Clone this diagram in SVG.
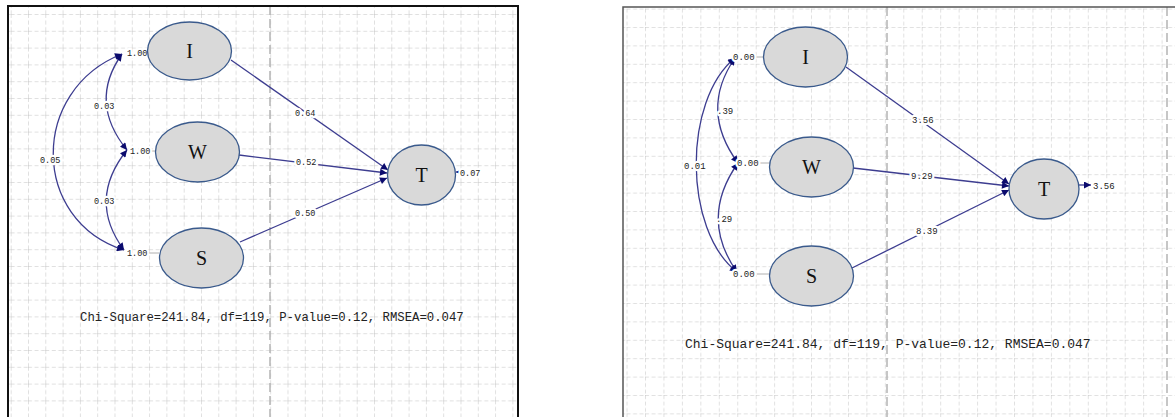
<svg xmlns="http://www.w3.org/2000/svg" width="1175" height="417" viewBox="0 0 1175 417">
<style>
.node ellipse{fill:#d9d9d9;stroke:#3a5a8c;stroke-width:1.3}
.node text{font-family:"Liberation Serif","Times New Roman",serif;font-size:20px;fill:#111;text-anchor:middle;dominant-baseline:central}
.edge{fill:none;stroke:#3d3d90;stroke-width:1.3}
.tick{stroke:#b0b0b0;stroke-width:1}
.lbl{font-family:"Liberation Mono","Courier New",monospace;font-size:8.5px;fill:#222;paint-order:stroke;stroke:#fff;stroke-width:4.5px;stroke-linejoin:round}
.lblR{font-size:9px}
.fit{font-family:"Liberation Mono","Courier New",monospace;fill:#222}
.pb{stroke:#b4b4b4;stroke-width:1.5;stroke-dasharray:9 4}
</style>
<defs>
<marker id="ah" viewBox="0 0 10 10" refX="10" refY="5" markerWidth="9" markerHeight="7" markerUnits="userSpaceOnUse" orient="auto-start-reverse">
<path d="M0,0 L10,5 L0,10 z" fill="#0b0b6e"/>
</marker>
<pattern id="gridL" patternUnits="userSpaceOnUse" x="28" y="14" width="17.3" height="16.8">
<path d="M0,0 V16.8 M0,0 H17.3" fill="none" stroke="#c2c2c2" stroke-width="1" stroke-dasharray="4 2.5"/>
</pattern>
<pattern id="gridR" patternUnits="userSpaceOnUse" x="645" y="27" width="18.45" height="18.4">
<path d="M0,0 V18.4 M0,0 H18.45" fill="none" stroke="#c2c2c2" stroke-width="1" stroke-dasharray="4 2.5"/>
</pattern>
</defs>
<rect width="1175" height="417" fill="#fff"/>

<g id="panel-left">
<rect x="8" y="6" width="510" height="420" fill="url(#gridL)"/>
<line class="pb" x1="270" y1="6" x2="270" y2="417"/>
<rect x="8" y="6" width="510" height="420" fill="none" stroke="#111" stroke-width="2"/>
</g>
<g id="panel-right">
<rect x="623" y="7" width="560" height="420" fill="url(#gridR)"/>
<line class="pb" x1="887" y1="7" x2="887" y2="417"/>
<line class="pb" x1="1167" y1="7" x2="1167" y2="417"/>
<rect x="623" y="7" width="560" height="420" fill="none" stroke="#555" stroke-width="1.5"/>
</g>

<g id="connectors">
<line class="tick" x1="147" y1="53" x2="149" y2="53"/>
<line class="tick" x1="150" y1="151" x2="156" y2="151"/>
<line class="tick" x1="148" y1="253" x2="159" y2="253"/>
<path class="edge" d="M122,54 Q88,102 127,150" marker-start="url(#ah)" marker-end="url(#ah)"/>
<path class="edge" d="M127,150 Q87,200 124,250" marker-start="url(#ah)" marker-end="url(#ah)"/>
<path class="edge" d="M122,54 C30,90 30,220 124,250" marker-start="url(#ah)" marker-end="url(#ah)"/>
<path class="edge" d="M231,60 L388,170" marker-end="url(#ah)"/>
<path class="edge" d="M239,155 L387,173" marker-end="url(#ah)"/>
<path class="edge" d="M240,242 L387,178" marker-end="url(#ah)"/>
<path class="edge" d="M463,172 L456,172" marker-end="url(#ah)"/>
<line class="tick" x1="756" y1="57" x2="764" y2="57"/>
<line class="tick" x1="759" y1="163" x2="770" y2="163"/>
<line class="tick" x1="757" y1="274" x2="770" y2="274"/>
<path class="edge" d="M735,58 Q699,110 738,163" marker-start="url(#ah)" marker-end="url(#ah)"/>
<path class="edge" d="M738,163 Q699,218 737,272" marker-start="url(#ah)" marker-end="url(#ah)"/>
<path class="edge" d="M735,58 C683,100 683,230 737,272" marker-start="url(#ah)" marker-end="url(#ah)"/>
<path class="edge" d="M846,67 L1009,184" marker-end="url(#ah)"/>
<path class="edge" d="M853,168 L1009,186" marker-end="url(#ah)"/>
<path class="edge" d="M852,268 L1009,190" marker-end="url(#ah)"/>
<path class="edge" d="M1079,185 L1091,185" marker-end="url(#ah)"/>
</g>

<g id="labels-left">
<text class="lbl" x="127" y="56">1.00</text>
<text class="lbl" x="130" y="154">1.00</text>
<text class="lbl" x="127" y="256">1.00</text>
<text class="lbl" x="94" y="109">0.03</text>
<text class="lbl" x="40" y="163">0.05</text>
<text class="lbl" x="94" y="204">0.03</text>
<text class="lbl" x="295" y="116">0.64</text>
<text class="lbl" x="296" y="165">0.52</text>
<text class="lbl" x="295" y="216">0.50</text>
<text class="lbl" x="460" y="176">0.07</text>
<text class="fit" x="80" y="321" font-size="12.3">Chi-Square=241.84, df=119, P-value=0.12, RMSEA=0.047</text>
</g>
<g id="labels-right">
<text class="lbl lblR" x="733" y="60">0.00</text>
<text class="lbl lblR" x="737" y="166">0.00</text>
<text class="lbl lblR" x="733" y="277">0.00</text>
<text class="lbl lblR" x="717" y="114">.39</text>
<text class="lbl lblR" x="684" y="169">0.01</text>
<text class="lbl lblR" x="716" y="222">.29</text>
<text class="lbl lblR" x="912" y="123">3.56</text>
<text class="lbl lblR" x="911" y="179">9.29</text>
<text class="lbl lblR" x="916" y="234">8.39</text>
<text class="lbl lblR" x="1093" y="189">3.56</text>
<text class="fit" x="685" y="348" font-size="13">Chi-Square=241.84, df=119, P-value=0.12, RMSEA=0.047</text>
</g>

<g id="node-I-left" class="node"><ellipse cx="189.5" cy="51" rx="42" ry="29"/><text x="189.5" y="51">I</text></g>
<g id="node-W-left" class="node"><ellipse cx="197.5" cy="152" rx="42" ry="30"/><text x="197.5" y="152">W</text></g>
<g id="node-S-left" class="node"><ellipse cx="201.5" cy="258" rx="42" ry="30"/><text x="201.5" y="258">S</text></g>
<g id="node-T-left" class="node"><ellipse cx="421.5" cy="175" rx="34" ry="30"/><text x="421.5" y="175">T</text></g>

<g id="node-I-right" class="node"><ellipse cx="805.5" cy="57" rx="42" ry="30"/><text x="805.5" y="57">I</text></g>
<g id="node-W-right" class="node"><ellipse cx="811.5" cy="167" rx="42" ry="30"/><text x="811.5" y="167">W</text></g>
<g id="node-S-right" class="node"><ellipse cx="811.5" cy="276" rx="42" ry="30"/><text x="811.5" y="276">S</text></g>
<g id="node-T-right" class="node"><ellipse cx="1044" cy="189" rx="35" ry="30"/><text x="1044" y="189">T</text></g>
</svg>
